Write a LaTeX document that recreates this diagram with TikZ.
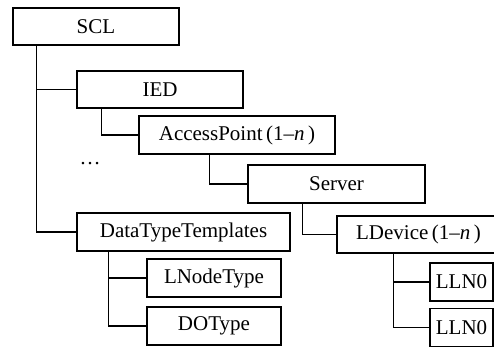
\documentclass[tikz,border=0pt]{standalone}
\usepackage{fontspec}
\setmainfont{Liberation Serif}
\usetikzlibrary{calc}
\begin{document}
\begin{tikzpicture}[x=1pt,y=-1pt,
  box/.style={draw,line width=1.5pt,inner sep=0pt,font=\fontsize{21}{24}\selectfont},
  conn/.style={line width=1.5pt}]
\useasboundingbox (0,0) rectangle (494,348);
\clip (0,0) rectangle (494,348);
\node[box,minimum width=166,minimum height=37] (scl) at (96,26.5) {SCL};
\node[box,minimum width=166,minimum height=37] (ied) at (160,89.5) {IED};
\node[box,minimum width=196,minimum height=38] (ap) at (237,135) {AccessPoint\,(1--\textit{n}\,)};
\node[box,minimum width=177,minimum height=38] (srv) at (336.5,184) {Server};
\node[box,minimum width=163,minimum height=37] (ld) at (418.5,234.5) {LDevice\,(1--\textit{n}\,)};
\node[box,minimum width=213,minimum height=38] (dtt) at (183.5,232) {DataTypeTemplates};
\node[box,minimum width=134,minimum height=38] (lnt) at (214,278) {LNodeType};
\node[box,minimum width=134,minimum height=38] (dot) at (214,326) {DOType};
\node[box,minimum width=63,minimum height=38] (lla) at (461.5,282) {LLN0};
\node[box,minimum width=63,minimum height=38] (llb) at (461.5,327.5) {LLN0};
\node[font=\fontsize{21}{24}\selectfont,inner sep=0pt,anchor=base] (dots) at (90,164) {\dots};
% connectors
\coordinate (t1) at ($(scl.south west)+(24,0)$);
\draw[conn] (t1) |- (dtt.west);
\draw[conn] (t1 |- ied.west) -- (ied.west);
\coordinate (t2) at ($(ied.south west)+(25,0)$);
\draw[conn] (t2) |- (ap.west);
\coordinate (t3) at ($(ap.south west)+(71,0)$);
\draw[conn] (t3) |- (srv.west);
\coordinate (t4) at ($(srv.south west)+(55,0)$);
\draw[conn] (t4) |- (ld.west);
\coordinate (t5) at ($(ld.south west)+(57,0)$);
\draw[conn] (t5) |- (llb.west);
\draw[conn] (t5 |- lla.west) -- (lla.west);
\coordinate (t6) at ($(dtt.south west)+(32,0)$);
\draw[conn] (t6) |- (dot.west);
\draw[conn] (t6 |- lnt.west) -- (lnt.west);
\end{tikzpicture}
\end{document}
